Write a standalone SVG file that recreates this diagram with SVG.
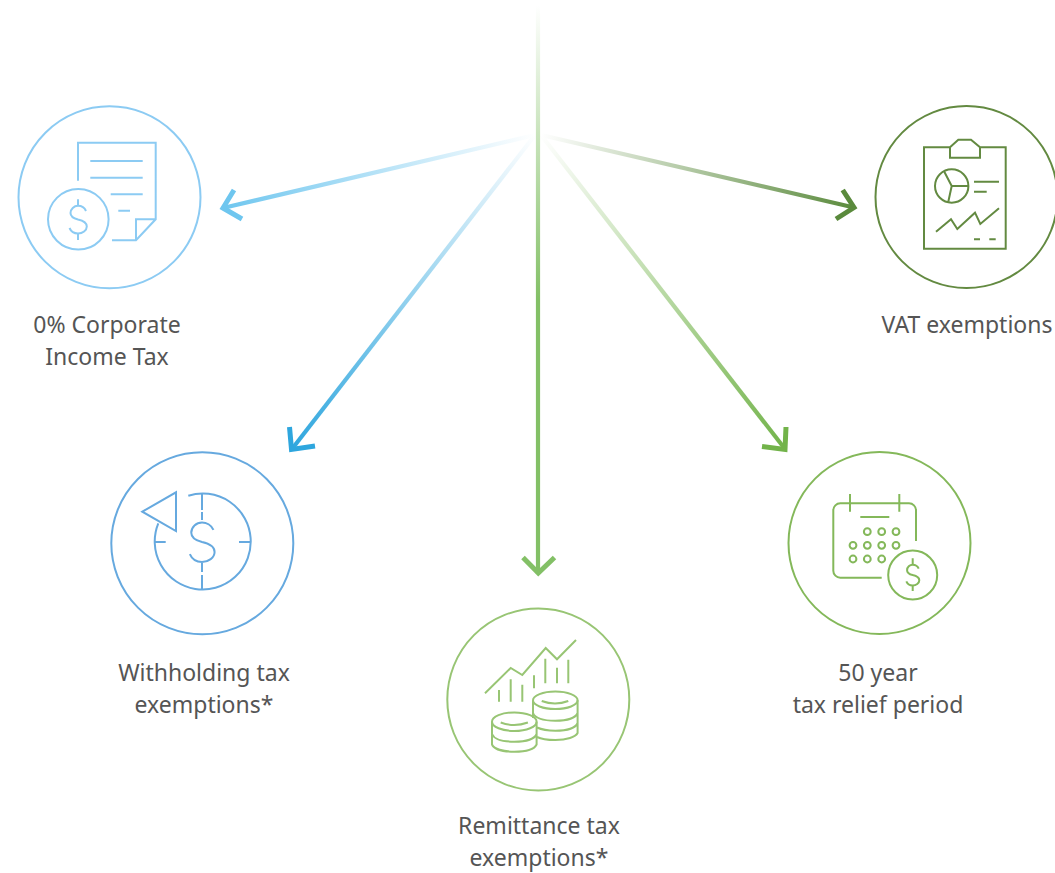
<svg xmlns="http://www.w3.org/2000/svg" width="1055" height="873" viewBox="0 0 1055 873">
<style>
.ring{fill:none;stroke-width:2}
.ic{fill:none;stroke-width:2;stroke-linejoin:miter}
.ray{fill:none;stroke-width:4.2}
.head{fill:none;stroke-width:5;stroke-linejoin:miter}
text{font-family:"Noto Sans","Liberation Sans",sans-serif;font-size:23px;fill:#555;text-anchor:middle;stroke:none}
</style>
<defs>
<path id="s" d="M8 -8.5C6.5 -12 3 -13.7 0 -13.7C-4 -13.7 -7.5 -10.5 -7.5 -6.5C-7.5 -2.5 -4 -1 0 0C4.5 1 8.8 3 8.8 7C8.8 11 4.5 14 0 14C-4 14 -7 12 -8.5 8.5"/>
<linearGradient id="g1" gradientUnits="userSpaceOnUse" x1="535" y1="135" x2="222" y2="209"><stop offset="0" stop-color="#fff"/><stop offset="1" stop-color="#6ec6ef"/></linearGradient>
<linearGradient id="g2" gradientUnits="userSpaceOnUse" x1="535" y1="135" x2="290" y2="450"><stop offset="0" stop-color="#fff"/><stop offset="1" stop-color="#2ea6de"/></linearGradient>
<linearGradient id="g3" gradientUnits="userSpaceOnUse" x1="538" y1="5" x2="538" y2="300"><stop offset="0" stop-color="#fff"/><stop offset="1" stop-color="#83c066"/></linearGradient>
<linearGradient id="g4" gradientUnits="userSpaceOnUse" x1="541" y1="135" x2="786" y2="450"><stop offset="0" stop-color="#fff"/><stop offset="1" stop-color="#72b34a"/></linearGradient>
<linearGradient id="g5" gradientUnits="userSpaceOnUse" x1="541" y1="135" x2="856" y2="209"><stop offset="0" stop-color="#fff"/><stop offset="1" stop-color="#5a8a3c"/></linearGradient>
</defs>
<g id="connectors">
<line class="ray" x1="535" y1="135" x2="223" y2="208" stroke="url(#g1)"/>
<polyline class="head" points="234,190 223,208 242,219" stroke="#6ec6ef"/>
<line class="ray" x1="535" y1="135" x2="292" y2="449" stroke="url(#g2)"/>
<polyline class="head" points="289.5,427 291.5,449.5 315,446" stroke="#2ea6de"/>
<line class="ray" x1="541" y1="135" x2="785" y2="449" stroke="url(#g4)"/>
<polyline class="head" points="762,446.5 785,449.5 786,427" stroke="#72b34a"/>
<line class="ray" x1="541" y1="135" x2="854" y2="207.5" stroke="url(#g5)"/>
<polyline class="head" points="836,219 854,207.5 842.7,190" stroke="#5a8a3c"/>
<line class="ray" x1="538" y1="5" x2="538" y2="574" stroke="url(#g3)"/>
<polyline class="head" points="523,557.5 538.3,573 554.5,557.5" stroke="#83c066"/>
</g>
<g id="node-corporate" stroke="#8ccbf3">
<circle class="ring" cx="109.5" cy="197.3" r="91"/>
<g class="ic">
<path d="M78 180.7V142.7H155.7V219.3L136 240.3H112M136 240.3V219.3H155.7M90.3 161H142.7M90.3 177.7H142.7M110.7 194.3H142.7M118.3 210.7H130"/>
<circle cx="78.3" cy="219.3" r="30.3"/>
<path d="M78 199.3V206M78 233.3V240"/>
<use href="#s" transform="translate(78 219.5)"/>
</g>
<text x="107" y="333">0% Corporate</text>
<text x="107" y="365">Income Tax</text>
</g>
<g id="node-vat" stroke="#638a41">
<circle class="ring" cx="966.5" cy="197" r="91"/>
<g class="ic">
<path d="M950 147.3H924V248.7H1005.7V147.3H980M950 147.3V157.7H980V147.3L971 139.7H958.3L950 147.3"/>
<circle cx="951.7" cy="186" r="16.7"/>
<path d="M951.7 186H968.3M951.7 186L944.3 171.7M951.7 186L948.3 201.7M974 181.7H999M974 191.7H986.7M936 231.7L951 219.3L957.3 229L975 212.7L980.3 224L999 208.3M974 239.3H980M989.3 239.3H995.7"/>
</g>
<text x="967" y="333">VAT exemptions</text>
</g>
<g id="node-withholding" stroke="#66a9df">
<circle class="ring" cx="202.3" cy="543.3" r="91"/>
<g class="ic">
<path d="M142.3 511.7L176 492.3V531Z"/>
<path d="M188.3 495.7A48 48 0 1 1 158.3 523.3"/>
<path d="M202 494V510M202 512V520M202 563V572M202 575V590M154 542H165.7M239 542H250"/>
<use href="#s" transform="translate(202 542) scale(1.43)" stroke-width="1.4"/>
</g>
<text x="204" y="681">Withholding tax</text>
<text x="204" y="713">exemptions*</text>
</g>
<g id="node-remittance" stroke="#98c574">
<circle class="ring" cx="538.3" cy="699.5" r="91"/>
<g class="ic">
<path d="M485 693.3L510.7 668L522.3 675L545.7 648L557 659.3L576 640"/>
<path d="M499 690V701.7M510.7 679.3V701.7M522.3 684.7V701.7M534 675.3V688.3M545.3 658.7V683.3M557 667.7V683.3M568.3 659.7V683.3"/>
<ellipse cx="555.3" cy="700.3" rx="22.3" ry="8.7"/>
<path d="M541.7 701Q555 706 568.3 701"/>
<path d="M533 700.3V713C535 718 544 720.7 555.3 720.7C567 720.7 575.5 718 577.6 713M533 713V718M577.6 700.3V733C575.5 737 567 740 555.3 740C548 740 542 739.5 537 737M537 727.5C542 729.8 548 730.7 555.3 730.7C567 730.7 575.5 728 577.6 723"/>
<ellipse cx="514.3" cy="721.7" rx="22.3" ry="9.3"/>
<path d="M500.7 722.5Q514 727.5 527.9 722.5"/>
<path d="M492 721.7V744.5C494 749 503 751.7 514.3 751.7C526 751.7 534.5 749 536.6 744.5V721.7M492 734C494 739 503 741.7 514.3 741.7C526 741.7 534.5 739 536.6 734"/>
</g>
<text x="539" y="834">Remittance tax</text>
<text x="539" y="866">exemptions*</text>
</g>
<g id="node-relief" stroke="#84b85a">
<circle class="ring" cx="879.5" cy="543" r="91"/>
<g class="ic">
<path d="M916 541V510.3A7 7 0 0 0 909 503.3H840.3A7 7 0 0 0 833.3 510.3V570.7A7 7 0 0 0 840.3 577.7H881.7"/>
<path d="M850 494V511.7M899.3 494V511.7M860.3 517H889.3"/>
<circle cx="867.3" cy="531.7" r="3.4"/><circle cx="881.7" cy="531.7" r="3.4"/><circle cx="896" cy="531.7" r="3.4"/>
<circle cx="853" cy="545.3" r="3.4"/><circle cx="867.3" cy="545.3" r="3.4"/><circle cx="881.7" cy="545.3" r="3.4"/><circle cx="896" cy="545.3" r="3.4"/>
<circle cx="853" cy="559" r="3.4"/><circle cx="867.3" cy="559" r="3.4"/><circle cx="881.7" cy="559" r="3.4"/>
<circle cx="912.7" cy="575" r="24.5"/>
<path d="M912.7 558.3V564.3M912.7 585V591"/>
<use href="#s" transform="translate(912.7 575) scale(0.75)" stroke-width="2.67"/>
</g>
<text x="878" y="681">50 year</text>
<text x="878" y="713">tax relief period</text>
</g>
</svg>
